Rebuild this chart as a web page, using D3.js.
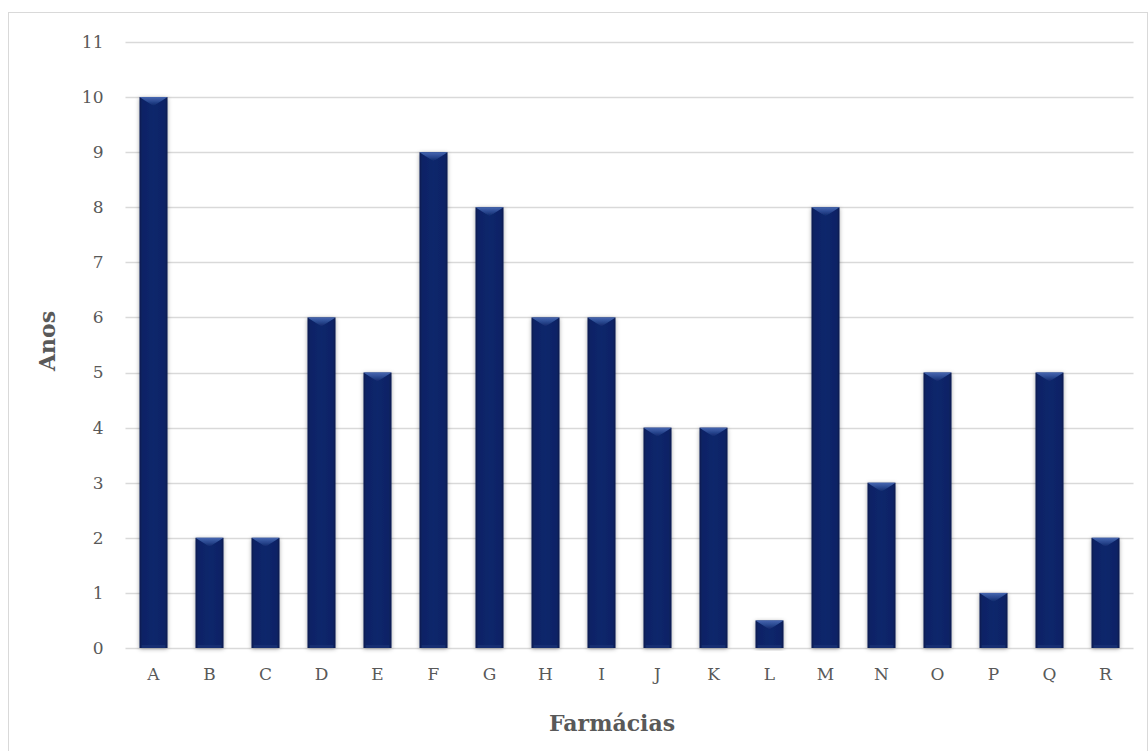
<!DOCTYPE html>
<html>
<head>
<meta charset="utf-8">
<script src="https://cdn.jsdelivr.net/npm/d3@7"></script>
<style>
  html, body { margin: 0; padding: 0; background: #fff; }
  svg { display: block; }
</style>
</head>
<body>
<script>
// Years of operation per pharmacy
const categories = ["A","B","C","D","E","F","G","H","I","J","K","L","M","N","O","P","Q","R"];
const values = [10, 2, 2, 6, 5, 9, 8, 6, 6, 4, 4, 0.5, 8, 3, 5, 1, 5, 2];
const yTicks = [0,1,2,3,4,5,6,7,8,9,10,11];
const xTitle = "Farmácias";
const yTitle = "Anos";

const W = 1148, H = 751;
const plot = { left: 125.5, right: 1133.5, top: 42, bottom: 648 };
const font = "Georgia, 'DejaVu Serif', 'Liberation Serif', serif";
const textColor = "#595959";

const svg = d3.select("body").append("svg")
  .attr("width", W).attr("height", H);

// Chart area border
svg.append("rect")
  .attr("x", 8.5).attr("y", 12.5)
  .attr("width", W - 9).attr("height", H)
  .attr("fill", "#fff").attr("stroke", "#d9d9d9").attr("stroke-width", 1);

const x = d3.scaleBand().domain(categories)
  .range([plot.left, plot.right]).paddingInner(0.5).paddingOuter(0.25);
const y = d3.scaleLinear().domain([0, 11]).range([plot.bottom, plot.top]);

const defs = svg.append("defs");
// Soft grey shadow around each column
const sh = defs.append("filter").attr("id", "shadow")
  .attr("x", "-40%").attr("y", "-10%").attr("width", "180%").attr("height", "120%");
sh.append("feDropShadow").attr("dx", 0).attr("dy", 1).attr("stdDeviation", 2)
  .attr("flood-color", "#000").attr("flood-opacity", 0.35);

// Column body: darker along the sides
const bodyGrad = defs.append("linearGradient").attr("id", "body")
  .attr("x1", "0").attr("x2", "1").attr("y1", "0").attr("y2", "0");
[[0, "#06194d"], [0.1, "#0b2365"], [0.5, "#0d266c"], [0.9, "#0b2365"], [1, "#06194d"]]
  .forEach(([o, c]) => bodyGrad.append("stop").attr("offset", o).attr("stop-color", c));

// Bevelled top face
const topGrad = defs.append("linearGradient").attr("id", "topface")
  .attr("x1", "0").attr("x2", "0").attr("y1", "0").attr("y2", "1");
[[0, "#4666b0"], [0.5, "#2a4890"], [1, "#0e2668"]]
  .forEach(([o, c]) => topGrad.append("stop").attr("offset", o).attr("stop-color", c));

// Horizontal gridlines
svg.append("g").selectAll("line").data(yTicks).join("line")
  .attr("x1", plot.left).attr("x2", plot.right)
  .attr("y1", d => Math.round(y(d)) + 0.5).attr("y2", d => Math.round(y(d)) + 0.5)
  .attr("stroke", "#d9d9d9").attr("stroke-width", 1.3);

// Y axis labels
const yAxis = svg.append("g")
  .attr("transform", `translate(${plot.left},0)`)
  .call(d3.axisLeft(y).tickValues(yTicks).tickSize(0).tickPadding(22).tickFormat(d3.format("d")));
yAxis.select(".domain").remove();
yAxis.selectAll("text").attr("font-family", font).attr("font-size", 17).attr("fill", textColor);

// X axis labels
const xAxis = svg.append("g")
  .attr("transform", `translate(0,${plot.bottom})`)
  .call(d3.axisBottom(x).tickSize(0).tickPadding(20));
xAxis.select(".domain").remove();
xAxis.selectAll("text").attr("font-family", font).attr("font-size", 17).attr("fill", textColor);

// Columns
const bars = svg.append("g").selectAll("g").data(categories.map((c, i) => ({ c, v: values[i] })))
  .join("g").attr("filter", "url(#shadow)");

bars.append("rect")
  .attr("x", d => x(d.c)).attr("width", x.bandwidth())
  .attr("y", d => y(d.v)).attr("height", d => y(0) - y(d.v))
  .attr("fill", "url(#body)");

bars.append("path")
  .attr("d", d => {
    const x0 = x(d.c), x1 = x0 + x.bandwidth(), yt = y(d.v);
    const b = Math.min(9, (y(0) - yt) * 0.6);
    const xc = x0 + x.bandwidth() / 2;
    return `M${x0},${yt}L${x1},${yt}L${x1 - 3},${yt + 2}L${xc},${yt + b}L${x0 + 3},${yt + 2}Z`;
  })
  .attr("fill", "url(#topface)");

// Light bottom edge
bars.append("rect")
  .attr("x", d => x(d.c) + 2).attr("width", x.bandwidth() - 4)
  .attr("y", y(0) - 3).attr("height", 3)
  .attr("fill", "#1b3478").attr("opacity", 0.6);

// Axis titles
svg.append("text")
  .attr("x", 612).attr("y", 731)
  .attr("text-anchor", "middle")
  .attr("font-family", font).attr("font-size", 22).attr("font-weight", "bold")
  .attr("fill", textColor).text(xTitle);

svg.append("text")
  .attr("transform", `translate(55,341) rotate(-90)`)
  .attr("text-anchor", "middle")
  .attr("font-family", font).attr("font-size", 22).attr("font-weight", "bold")
  .attr("fill", textColor).text(yTitle);
</script>
</body>
</html>
